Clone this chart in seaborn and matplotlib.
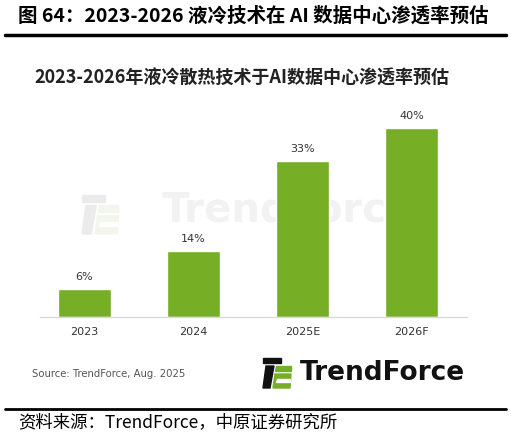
import pandas as pd
import seaborn as sn
import matplotlib.pyplot as plt
from matplotlib.patches import Polygon

sn.set_theme(style="white")
plt.rcParams["font.family"] = ["Noto Sans CJK SC", "DejaVu Sans"]

years = ["2023", "2024", "2025E", "2026F"]
rates = [6, 14, 33, 40]
value_labels = ["6%", "14%", "33%", "40%"]

GREEN = "#76AE25"
W, H = 511, 440


def draw_logo(target, fig, x0, y0, scale, faded=False, zorder=3):
    # TrendForce mark, coordinates in figure pixels (origin top-left)
    def pt(x, y):
        return ((x0 + x * scale) / W, 1 - (y0 + y * scale) / H)

    black = "#ebebeb" if faded else "#111111"
    green = "#f3f6ec" if faded else GREEN
    shapes = [
        ([(0, 0), (18, 0), (18, 5), (0, 5)], black),
        ([(3, 8), (11, 8), (7, 30), (0, 30)], black),
        ([(13, 8), (28, 8), (28, 13), (12, 13)], green),
        ([(12, 16), (28, 16), (27, 30), (10, 30)], green),
        ([(14, 21), (27, 21), (27, 24), (13, 24)], "white"),
    ]
    for pts, c in shapes:
        poly = Polygon([pt(*p) for p in pts], closed=True, color=c,
                       transform=fig.transFigure, zorder=zorder, clip_on=False)
        target.add_artist(poly)


fig = plt.figure(figsize=(5.11, 4.40), dpi=100)

ax = fig.add_axes([0.078, 0.2795, 0.836, 0.483])
df = pd.DataFrame({"year": years, "rate": rates})
sn.barplot(data=df, x="year", y="rate", ax=ax, color=GREEN, width=0.49,
           saturation=1, zorder=2)
for p, lab in zip(ax.patches, value_labels):
    ax.annotate(lab, (p.get_x() + p.get_width() / 2, p.get_height()),
                xytext=(0, 5), textcoords="offset points", ha="center",
                va="bottom", fontsize=8, color="#333333",
                family=["DejaVu Sans"])
ax.set_xlim(-0.41, 3.51)
ax.set_ylim(0, 45)
ax.set(xlabel="", ylabel="", yticks=[])
ax.tick_params(axis="x", length=0, pad=7, labelsize=8, labelcolor="#333333")
for lab in ax.get_xticklabels():
    lab.set_family(["DejaVu Sans"])
for side in ["top", "right", "left"]:
    ax.spines[side].set_visible(False)
ax.spines["bottom"].set_color("#d9d9d9")
ax.spines["bottom"].set_linewidth(1)

# watermark behind the bars
draw_logo(ax, fig, 82, 195, 1.3, faded=True, zorder=0.5)
ax.text(288 / W, 1 - 210 / H, "TrendForce", ha="center", va="center",
        fontsize=29, fontweight="bold", color="#f2f2f2",
        family=["DejaVu Sans"], transform=fig.transFigure, zorder=0.5)

# header
fig.text(0.035, 1 - 16 / H, "图 64：2023-2026 液冷技术在 AI 数据中心渗透率预估",
         fontsize=14, fontweight="bold", va="center", ha="left", color="black")
fig.lines.append(plt.Line2D([0.01, 0.99], [1 - 35 / H] * 2, color="black",
                            lw=2.5, transform=fig.transFigure))

# inner chart title
fig.text(0.068, 1 - 78 / H, "2023-2026年液冷散热技术于AI数据中心渗透率预估",
         fontsize=13, fontweight="bold", va="center", ha="left", color="#222222")

# source + logo
fig.text(0.062, 1 - 374 / H, "Source: TrendForce, Aug. 2025", fontsize=7.3,
         va="center", ha="left", color="#555555", family=["DejaVu Sans"])
draw_logo(fig, fig, 263, 358, 1.0)
fig.text(300 / W, 1 - 373 / H, "TrendForce", fontsize=19, fontweight="bold",
         va="center", ha="left", color="#111111", family=["DejaVu Sans"])

# footer
fig.lines.append(plt.Line2D([0.01, 0.99], [1 - 409 / H] * 2, color="black",
                            lw=2, transform=fig.transFigure))
fig.text(0.035, 1 - 422 / H, "资料来源：TrendForce，中原证券研究所",
         fontsize=12.5, va="center", ha="left", color="black")

fig.savefig("out.png", dpi=100)
